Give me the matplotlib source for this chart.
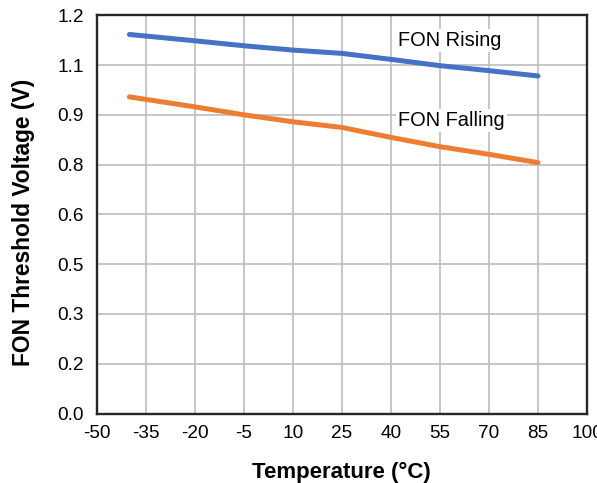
import numpy as np
import matplotlib
matplotlib.use("Agg")
import matplotlib.pyplot as plt

# values
temps = [-40, -20, -5, 10, 25, 40, 55, 70, 85]
fon_rising = [1.142, 1.123, 1.108, 1.095, 1.085, 1.067, 1.048, 1.033, 1.017]
fon_falling = [0.954, 0.924, 0.900, 0.879, 0.862, 0.832, 0.804, 0.781, 0.756]

x_ticks = [-50, -35, -20, -5, 10, 25, 40, 55, 70, 85, 100]
y_ticks = [0.0, 0.15, 0.3, 0.45, 0.6, 0.75, 0.9, 1.05, 1.2]
y_ticklabels = ['0.0', '0.2', '0.3', '0.5', '0.6', '0.8', '0.9', '1.1', '1.2']

plt.rcParams['font.family'] = ['Liberation Sans', 'DejaVu Sans']
plt.rcParams['axes.unicode_minus'] = False

fig = plt.figure(figsize=(5.97, 4.83), dpi=100)
ax = fig.add_axes([0.162, 0.1437, 0.8213, 0.8248])

ax.plot(temps, fon_rising, color='#4472C4', linewidth=3.6, solid_capstyle='round', zorder=3)
ax.plot(temps, fon_falling, color='#ED7D31', linewidth=3.6, solid_capstyle='round', zorder=3)

box = dict(facecolor='white', edgecolor='none', pad=1.5)
ax.text(42.2, 1.107, 'FON Rising', fontsize=14.4, va='baseline', bbox=box, zorder=4)
ax.text(42.2, 0.866, 'FON Falling', fontsize=14.4, va='baseline', bbox=box, zorder=4)

ax.set_xlim(-50, 100)
ax.set_ylim(0, 1.2)
ax.set_xticks(x_ticks)
ax.set_yticks(y_ticks)
ax.set_yticklabels(y_ticklabels)
ax.grid(True, color='#BCBCBC', linewidth=1.2)
ax.set_axisbelow(True)

ax.tick_params(axis='both', length=0, labelsize=13.7, labelcolor='black')
ax.tick_params(axis='x', pad=8.5)
ax.tick_params(axis='y', pad=9.5)
for side in ['top', 'right', 'bottom', 'left']:
    ax.spines[side].set_color('#262626')
    ax.spines[side].set_linewidth(1.7)

ax.set_xlabel('Temperature (°C)', fontsize=16, fontweight='bold', labelpad=14)
ax.set_ylabel('FON Threshold Voltage (V)', fontsize=16.4, fontweight='bold')
ax.yaxis.set_label_coords(-0.125, 0.48)

fig.savefig('out.png', dpi=100)
